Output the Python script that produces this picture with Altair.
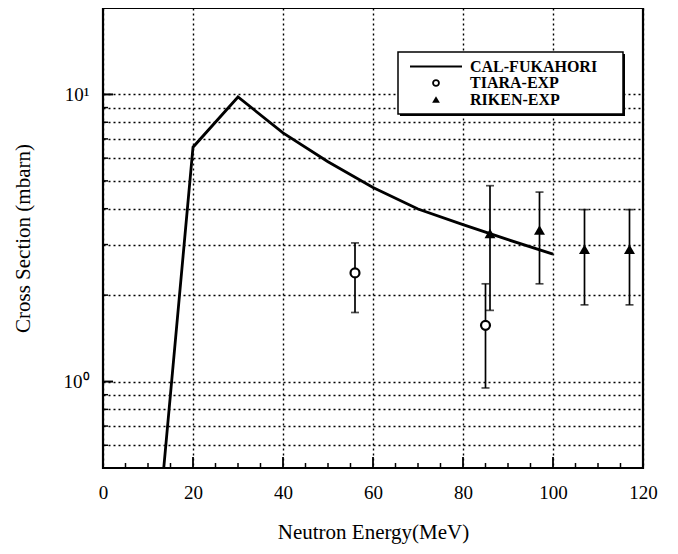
import altair as alt
import pandas as pd

# ---- data ----
model_x = [13.5, 20, 30, 40, 50, 60, 70, 80, 90, 100]
model_y = [0.5, 6.55, 9.8, 7.35, 5.83, 4.74, 3.99, 3.52, 3.12, 2.78]

tiara_x = [56, 85]
tiara_y = [2.39, 1.57]
tiara_lo = [1.74, 0.95]
tiara_hi = [3.04, 2.19]

riken_x = [86, 97, 107, 117]
riken_y = [3.28, 3.37, 2.89, 2.89]
riken_lo = [1.77, 2.19, 1.85, 1.85]
riken_hi = [4.81, 4.57, 3.97, 3.97]

x_ticks = [0, 20, 40, 60, 80, 100, 120]
x_minor = [5, 10, 15, 25, 30, 35, 45, 50, 55, 65, 70, 75, 85, 90, 95, 105, 110, 115]
y_grid = [0.6, 0.7, 0.8, 0.9, 1, 2, 3, 4, 5, 6, 7, 8, 9, 10]
y_major = [1, 10]
legend_labels = ["CAL-FUKAHORI", "TIARA-EXP", "RIKEN-EXP"]

FONT = "Liberation Serif"
W, H = 540, 460

model = pd.DataFrame({"x": model_x, "y": model_y})
tiara = pd.DataFrame({"x": tiara_x, "y": tiara_y, "lo": tiara_lo, "hi": tiara_hi})
riken = pd.DataFrame({"x": riken_x, "y": riken_y, "lo": riken_lo, "hi": riken_hi})
xmin = pd.DataFrame({"x": x_minor})
xmaj = pd.DataFrame({"x": x_ticks[1:-1]})
ygr = pd.DataFrame({"y": [v for v in y_grid if v not in y_major]})
ymaj = pd.DataFrame({"y": y_major})
dummy = pd.DataFrame({"k": [0]})

xscale = alt.Scale(domain=[0, 120], nice=False, zero=False)
yscale = alt.Scale(type="log", domain=[0.5, 20], nice=False)

xaxis = alt.Axis(values=x_ticks, grid=True, gridDash=[2, 3], gridColor="black",
                 gridWidth=1.4, gridOpacity=1, ticks=False, domain=False,
                 labelFont=FONT, labelFontSize=19, labelColor="black",
                 labelPadding=15, labelFlush=False, labelOverlap=False,
                 titleFont=FONT, titleFontSize=21, titleFontWeight="normal",
                 titleColor="black", titlePadding=19)
yaxis = alt.Axis(values=y_grid, grid=True, gridDash=[2, 3], gridColor="black",
                 gridWidth=1.4, gridOpacity=1, ticks=False, domain=False,
                 labelExpr="datum.value == 1 ? '10⁰' : (datum.value == 10 ? '10¹' : '')",
                 labelFont=FONT, labelFontSize=19, labelColor="black",
                 labelPadding=14, labelOverlap=False, labelFlush=False,
                 titleFont=FONT, titleFontSize=21, titleFontWeight="normal",
                 titleColor="black", titlePadding=30)

X = lambda f="x": alt.X(f"{f}:Q", scale=xscale, axis=xaxis, title="Neutron Energy(MeV)")
Y = lambda f="y": alt.Y(f"{f}:Q", scale=yscale, axis=yaxis, title="Cross Section (mbarn)")

line = alt.Chart(model).mark_line(color="black", strokeWidth=2.8, clip=True).encode(x=X(), y=Y())

t_err = alt.Chart(tiara).mark_rule(color="black", strokeWidth=1.7).encode(x=X(), y=Y("lo"), y2="hi:Q")
t_lo = alt.Chart(tiara).mark_tick(color="black", orient="horizontal", size=8, thickness=1.7).encode(x=X(), y=Y("lo"))
t_hi = alt.Chart(tiara).mark_tick(color="black", orient="horizontal", size=8, thickness=1.7).encode(x=X(), y=Y("hi"))
t_pt = alt.Chart(tiara).mark_point(shape="circle", filled=True, fill="white", stroke="black",
                                   strokeWidth=2.2, size=80, opacity=1).encode(x=X(), y=Y())

r_err = alt.Chart(riken).mark_rule(color="black", strokeWidth=1.7).encode(x=X(), y=Y("lo"), y2="hi:Q")
r_lo = alt.Chart(riken).mark_tick(color="black", orient="horizontal", size=8, thickness=1.7).encode(x=X(), y=Y("lo"))
r_hi = alt.Chart(riken).mark_tick(color="black", orient="horizontal", size=8, thickness=1.7).encode(x=X(), y=Y("hi"))
r_pt = alt.Chart(riken).mark_point(shape="triangle-up", filled=True, color="black",
                                   size=120, opacity=1).encode(x=X(), y=Y())

# inward ticks
xt_min = alt.Chart(xmin).mark_rule(color="black", strokeWidth=1.5).encode(
    x=X(), y=alt.value(H), y2=alt.value(H - 5))
xt_maj = alt.Chart(xmaj).mark_rule(color="black", strokeWidth=1.8).encode(
    x=X(), y=alt.value(H), y2=alt.value(H - 11))
yt_min = alt.Chart(ygr).mark_rule(color="black", strokeWidth=1.5).encode(
    y=Y(), x=alt.value(0), x2=alt.value(5))
yt_maj = alt.Chart(ymaj).mark_rule(color="black", strokeWidth=2).encode(
    y=Y(), x=alt.value(0), x2=alt.value(10))

# legend (drawn by hand)
LX0, LX1, LY0, LY1 = 295, 520, 44, 106
rows = [58.5, 75, 91.5]
leg_shadow = alt.Chart(dummy).mark_rect(fill="black").encode(
    x=alt.value(LX0 + 2), x2=alt.value(LX1 + 2), y=alt.value(LY0 + 2), y2=alt.value(LY1 + 2))
leg_box = alt.Chart(dummy).mark_rect(fill="white", stroke="black", strokeWidth=1.5).encode(
    x=alt.value(LX0), x2=alt.value(LX1), y=alt.value(LY0), y2=alt.value(LY1))
leg_line = alt.Chart(dummy).mark_rule(color="black", strokeWidth=2).encode(
    x=alt.value(307), x2=alt.value(359), y=alt.value(rows[0]))
leg_circ = alt.Chart(dummy).mark_point(shape="circle", filled=True, fill="white", stroke="black",
                                       strokeWidth=1.8, size=35, opacity=1).encode(
    x=alt.value(333), y=alt.value(rows[1]))
leg_tri = alt.Chart(dummy).mark_point(shape="triangle-up", filled=True, color="black",
                                      size=60, opacity=1).encode(
    x=alt.value(333), y=alt.value(rows[2]))
leg_texts = [
    alt.Chart(pd.DataFrame({"t": [lab]})).mark_text(
        font=FONT, fontSize=16, fontWeight="bold", align="left", baseline="middle",
        color="black").encode(text="t:N", x=alt.value(367), y=alt.value(r))
    for lab, r in zip(legend_labels, rows)
]

chart = alt.layer(
    line, t_err, t_lo, t_hi, t_pt, r_err, r_lo, r_hi, r_pt,
    xt_min, xt_maj, yt_min, yt_maj,
    leg_shadow, leg_box, leg_line, leg_circ, leg_tri, *leg_texts
).properties(
    width=W, height=H,
    autosize=alt.AutoSizeParams(type="none"),
    padding={"left": 95, "top": 0, "right": 27, "bottom": 78},
    background="white",
).configure_view(stroke="black", strokeWidth=2.2)

chart.save("out.html", embed_options={"renderer": "svg", "actions": False})
